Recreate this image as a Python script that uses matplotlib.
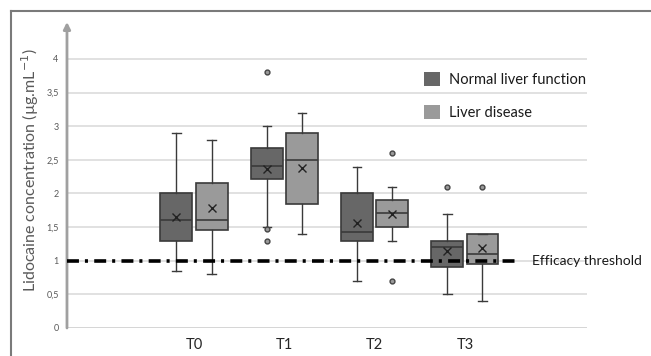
import matplotlib
matplotlib.use("Agg")
import matplotlib.pyplot as plt
from matplotlib.patches import Patch
from matplotlib.lines import Line2D

plt.rcParams['font.family'] = ['Lato', 'DejaVu Sans']
plt.rcParams['lines.scale_dashes'] = False

# data
groups = ['T0', 'T1', 'T2', 'T3']
series = ['Normal liver function', 'Liver disease']

normal_whislo = [0.85, 1.50, 0.70, 0.50]
normal_q1 = [1.30, 2.21, 1.30, 0.90]
normal_med = [1.60, 2.41, 1.42, 1.20]
normal_q3 = [2.00, 2.67, 2.00, 1.30]
normal_whishi = [2.90, 3.00, 2.40, 1.70]
normal_mean = [1.65, 2.37, 1.56, 1.15]
normal_fliers = [[], [3.80, 1.47, 1.30], [], [2.10]]

disease_whislo = [0.80, 1.40, 1.30, 0.40]
disease_q1 = [1.45, 1.85, 1.50, 0.95]
disease_med = [1.60, 2.50, 1.71, 1.10]
disease_q3 = [2.15, 2.90, 1.90, 1.40]
disease_whishi = [2.80, 3.20, 2.10, 1.40]
disease_mean = [1.78, 2.38, 1.69, 1.19]
disease_fliers = [[], [], [2.60, 0.70], [2.10]]

threshold = 1.0
yticks = [0, 0.5, 1, 1.5, 2, 2.5, 3, 3.5, 4]
ytick_labels = ['0', '0,5', '1', '1,5', '2', '2,5', '3', '3,5', '4']

dark = '#676767'
light = '#9a9a9a'
edge = '#3a3a3a'


def make_stats(wlo, q1, med, q3, whi, mean, fl):
    return [dict(whislo=a, q1=b, med=c, q3=d, whishi=e, mean=m, fliers=f)
            for a, b, c, d, e, m, f in zip(wlo, q1, med, q3, whi, mean, fl)]


fig = plt.figure(figsize=(6.51, 3.56), dpi=100)
ax = fig.add_axes([0.1029, 0.0787, 0.7988, 0.8596])

# outer frame (top and left only)
fig.add_artist(Line2D([11 / 651, 1.0], [1 - 11 / 356] * 2, color='#7a7a7a', lw=1.5))
fig.add_artist(Line2D([11 / 651] * 2, [0, 1 - 11 / 356], color='#7a7a7a', lw=1.5))

pos = list(range(len(groups)))
off = 0.194
bw = 0.354

for stats, color, sh in [
    (make_stats(normal_whislo, normal_q1, normal_med, normal_q3, normal_whishi, normal_mean, normal_fliers), dark, -off),
    (make_stats(disease_whislo, disease_q1, disease_med, disease_q3, disease_whishi, disease_mean, disease_fliers), light, off),
]:
    ax.bxp(stats, positions=[p + sh for p in pos], widths=bw, patch_artist=True,
           showmeans=True, capwidths=0.09,
           boxprops=dict(facecolor=color, edgecolor=edge, linewidth=1.2),
           medianprops=dict(color=edge, linewidth=1.2),
           whiskerprops=dict(color=edge, linewidth=1.0),
           capprops=dict(color=edge, linewidth=1.0),
           meanprops=dict(marker='x', markeredgecolor='#222222', markersize=6, markeredgewidth=1.0),
           flierprops=dict(marker='o', markerfacecolor='#9a9a9a', markeredgecolor='#444444',
                           markersize=3.5, markeredgewidth=1.0),
           zorder=3)

# efficacy threshold
ax.plot([-1.406, 3.61], [threshold, threshold], color='black', lw=2.6,
        dashes=(8.6, 4.3, 2.2, 4.5), zorder=4, solid_capstyle='butt',
        dash_capstyle='butt')
ax.text(3.74, threshold, 'Efficacy threshold', fontsize=10, color='#1a1a1a',
        va='center', ha='left')

ax.set_xlim(-1.406, 4.351)
ax.set_ylim(0, 4.55)
ax.set_yticks(yticks)
ax.set_yticklabels(ytick_labels)
ax.set_xticks(pos)
ax.set_xticklabels(groups)
ax.tick_params(axis='y', length=0, labelsize=6.5, labelcolor='#595959', pad=6)
ax.tick_params(axis='x', length=0, labelsize=10.5, labelcolor='#262626', pad=7)
ax.grid(axis='y', color='#dcdcdc', linewidth=1.2, zorder=0)
ax.set_axisbelow(True)
for s in ['top', 'right', 'bottom', 'left']:
    ax.spines[s].set_visible(False)
ax.axhline(0, color='#d4d4d4', lw=1.2, zorder=1)
ax.annotate('', xy=(0, 1.0), xytext=(0, 0), xycoords='axes fraction',
            arrowprops=dict(arrowstyle='-|>', color='#a0a0a0', lw=2,
                            mutation_scale=10, shrinkA=0, shrinkB=0))

ax.set_ylabel('Lidocaine concentration (µg.mL$^{-1}$)', fontsize=11.5, color='#595959')
ax.yaxis.set_label_coords(-0.05, 0.515)

handles = [Patch(facecolor=dark, edgecolor='none'), Patch(facecolor=light, edgecolor='none')]
ax.legend(handles, series, loc='upper left', bbox_to_anchor=(0.676, 0.855), frameon=False,
          fontsize=10.5, handlelength=1.1, handleheight=1.1, labelspacing=1.2,
          handletextpad=0.6, borderaxespad=0, labelcolor='#1a1a1a')

fig.savefig('out.png', dpi=100)
